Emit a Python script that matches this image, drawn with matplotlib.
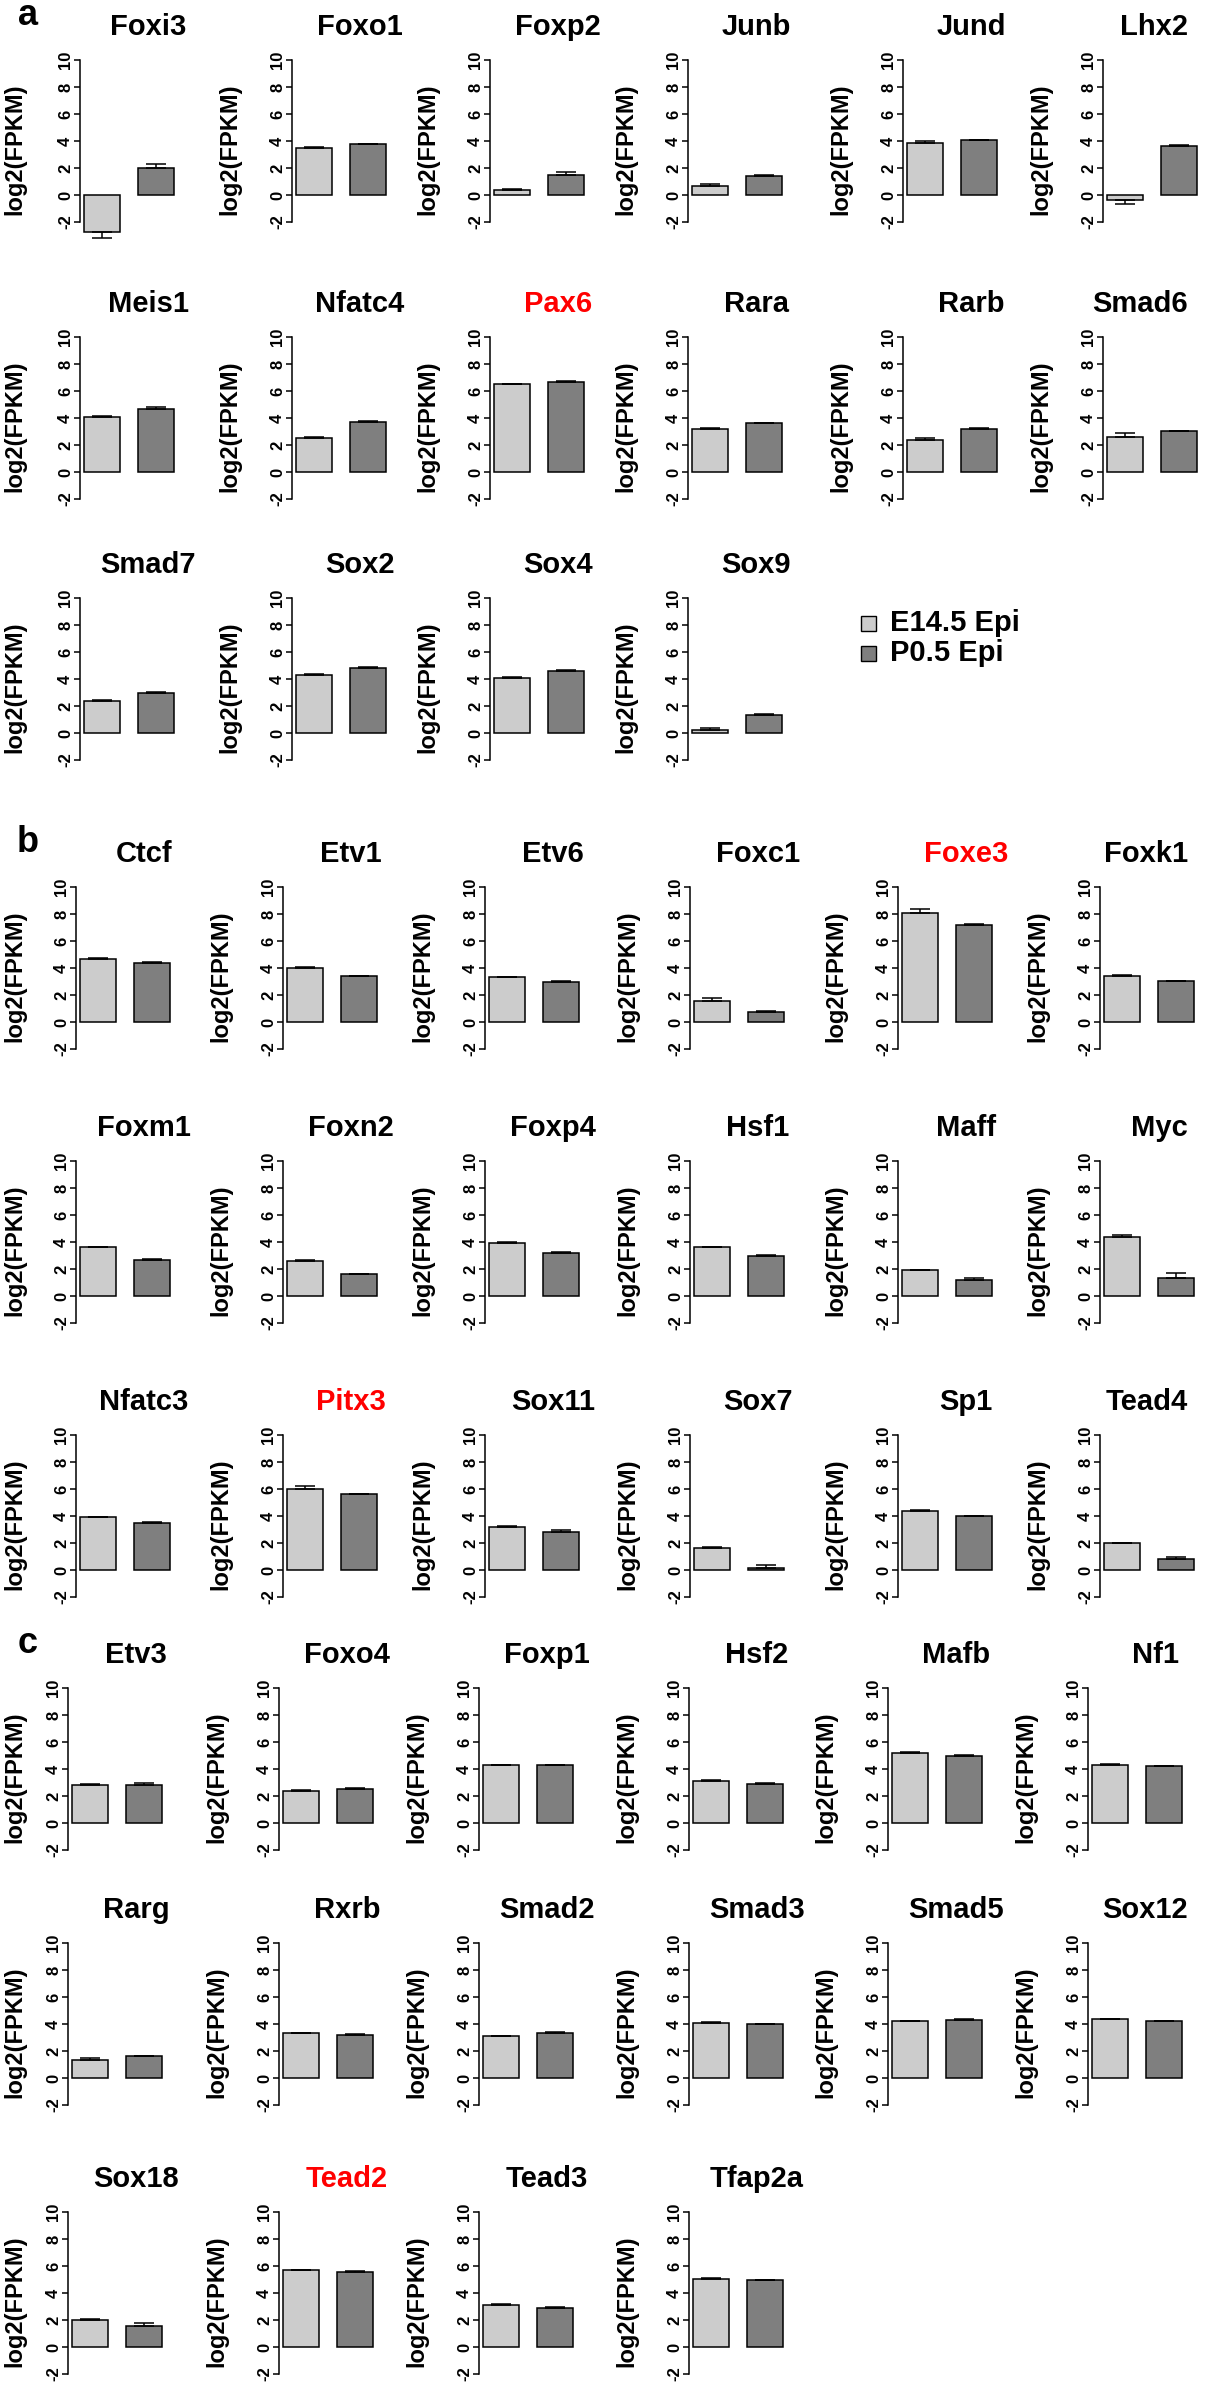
import matplotlib
matplotlib.use("Agg")
import matplotlib.pyplot as plt
from matplotlib.patches import Rectangle

plt.rcParams["font.family"] = ["Liberation Sans", "DejaVu Sans"]
plt.rcParams["font.weight"] = "bold"

# ---- data: log2(FPKM), mean and error for the two groups ----
groups = ["E14.5 Epi", "P0.5 Epi"]
highlight = ["Pax6", "Foxe3", "Pitx3", "Tead2"]

genes_a = ["Foxi3", "Foxo1", "Foxp2", "Junb", "Jund", "Lhx2",
           "Meis1", "Nfatc4", "Pax6", "Rara", "Rarb", "Smad6",
           "Smad7", "Sox2", "Sox4", "Sox9"]
e14_a = [-2.76, 3.46, 0.35, 0.7, 3.83, -0.4,
         4.09, 2.53, 6.5, 3.2, 2.4, 2.6,
         2.38, 4.3, 4.1, 0.25]
e14_err_a = [0.4, 0.12, 0.1, 0.15, 0.2, 0.3,
             0.04, 0.07, 0.05, 0.05, 0.1, 0.3,
             0.04, 0.04, 0.04, 0.1]
p05_a = [2.02, 3.76, 1.5, 1.4, 4.07, 3.66,
         4.69, 3.67, 6.7, 3.6, 3.2, 3.0,
         3.0, 4.85, 4.6, 1.3]
p05_err_a = [0.25, 0.02, 0.2, 0.08, 0.04, 0.05,
             0.12, 0.08, 0.05, 0.05, 0.05, 0.05,
             0.04, 0.04, 0.1, 0.12]

genes_b = ["Ctcf", "Etv1", "Etv6", "Foxc1", "Foxe3", "Foxk1",
           "Foxm1", "Foxn2", "Foxp4", "Hsf1", "Maff", "Myc",
           "Nfatc3", "Pitx3", "Sox11", "Sox7", "Sp1", "Tead4"]
e14_b = [4.7, 4.0, 3.3, 1.58, 8.07, 3.42,
         3.6, 2.6, 3.9, 3.6, 1.9, 4.35,
         3.9, 6.0, 3.2, 1.6, 4.4, 2.0]
e14_err_b = [0.03, 0.1, 0.04, 0.18, 0.27, 0.09,
             0.03, 0.03, 0.1, 0.05, 0.05, 0.15,
             0.03, 0.2, 0.05, 0.1, 0.03, 0.03]
p05_b = [4.4, 3.4, 3.0, 0.72, 7.18, 3.02,
         2.7, 1.6, 3.2, 3.0, 1.2, 1.3,
         3.5, 5.6, 2.8, 0.15, 4.0, 0.8]
p05_err_b = [0.03, 0.04, 0.03, 0.12, 0.07, 0.03,
             0.03, 0.03, 0.05, 0.04, 0.1, 0.4,
             0.03, 0.05, 0.15, 0.2, 0.03, 0.15]

genes_c = ["Etv3", "Foxo4", "Foxp1", "Hsf2", "Mafb", "Nf1",
           "Rarg", "Rxrb", "Smad2", "Smad3", "Smad5", "Sox12",
           "Sox18", "Tead2", "Tead3", "Tfap2a"]
e14_c = [2.84, 2.4, 4.3, 3.1, 5.2, 4.3,
         1.3, 3.3, 3.1, 4.1, 4.2, 4.35,
         1.98, 5.68, 3.1, 5.04]
e14_err_c = [0.03, 0.04, 0.03, 0.05, 0.04, 0.04,
             0.15, 0.04, 0.03, 0.03, 0.03, 0.03,
             0.09, 0.04, 0.05, 0.04]
p05_c = [2.81, 2.52, 4.3, 2.9, 5.0, 4.2,
         1.6, 3.2, 3.3, 4.0, 4.3, 4.2,
         1.52, 5.58, 2.9, 4.94]
p05_err_c = [0.15, 0.04, 0.03, 0.04, 0.04, 0.03,
             0.05, 0.03, 0.1, 0.03, 0.04, 0.03,
             0.24, 0.04, 0.05, 0.04]

yticks = [-2, 0, 2, 4, 6, 8, 10]

# ---- layout (pixels in the 1211 x 2387 image) ----
W, H = 1211, 2387
col_x = {"a": [80, 292, 490, 688, 903, 1103],
         "b": [76, 283, 485, 690, 898, 1100],
         "c": [68, 279, 479, 689, 888, 1088]}
row_top = {"a": [60, 337, 598], "b": [887, 1161, 1435], "c": [1688, 1943, 2212]}
ppu_x = 36.0    # pixels per x unit
ppu_y = 13.5    # pixels per y unit
xlim = (0.4, 3.1)
ylim = (-3.5, 10.5)
light, dark = "#cccccc", "#7f7f7f"
title_right_max = 1188

fig = plt.figure(figsize=(W / 100, H / 100), dpi=100)
titles = []


def panel(x0, top, gene, vals, errs, lab_off):
    w = (xlim[1] - xlim[0]) * ppu_x
    h = (ylim[1] - ylim[0]) * ppu_y
    top_px = top - (ylim[1] - 10) * ppu_y
    ax = fig.add_axes([x0 / W, 1 - (top_px + h) / H, w / W, h / H])
    xs = [1.0, 2.5]
    ax.bar(xs, vals, width=1.0, color=[light, dark], edgecolor="black", linewidth=1.1, zorder=2)
    lo = [e if v < 0 else 0 for v, e in zip(vals, errs)]
    hi = [0 if v < 0 else e for v, e in zip(vals, errs)]
    ax.errorbar(xs, vals, yerr=[lo, hi], fmt="none", ecolor="black",
                elinewidth=1.1, capsize=7, capthick=1.1, zorder=3)
    ax.set_xlim(*xlim)
    ax.set_ylim(*ylim)
    for s in ["top", "right", "bottom"]:
        ax.spines[s].set_visible(False)
    ax.spines["left"].set_bounds(-2, 10)
    ax.spines["left"].set_linewidth(1.1)
    ax.set_xticks([])
    ax.set_yticks(yticks)
    ax.set_yticklabels([str(t) for t in yticks], rotation=90, va="center",
                       fontsize=12, fontweight="bold")
    ax.tick_params(axis="y", length=4, width=1.1, pad=1)
    ax.set_ylabel("log2(FPKM)", fontsize=17, fontweight="bold")
    ax.yaxis.set_label_coords(-lab_off / w, (3.4 - ylim[0]) / (ylim[1] - ylim[0]))
    ax.patch.set_visible(False)
    color = "red" if gene in highlight else "black"
    t = fig.text((x0 + 68) / W, 1 - (top - 25) / H, gene, ha="center", va="baseline",
                 fontsize=21, fontweight="bold", color=color)
    titles.append(t)


sections = [("a", genes_a, e14_a, e14_err_a, p05_a, p05_err_a),
            ("b", genes_b, e14_b, e14_err_b, p05_b, p05_err_b),
            ("c", genes_c, e14_c, e14_err_c, p05_c, p05_err_c)]

for key, genes, m1, s1, m2, s2 in sections:
    fig.text(28 / W, 1 - (row_top[key][0] - 35) / H, key, ha="center", va="baseline",
             fontsize=26, fontweight="bold")
    for i, g in enumerate(genes):
        r, c = divmod(i, 6)
        x0 = col_x[key][c]
        off = x0 - 26 if c == 0 else 51
        panel(x0, row_top[key][r], g, [m1[i], m2[i]], [s1[i], s2[i]], off)

# legend
for j, (lab, colr) in enumerate(zip(groups, [light, dark])):
    yc = 623 + 30 * j
    fig.patches.append(Rectangle(((868 - 7.5) / W, 1 - (yc + 7.5) / H), 15 / W, 15 / H,
                                 transform=fig.transFigure, facecolor=colr,
                                 edgecolor="black", linewidth=1.0))
    fig.text(890 / W, 1 - yc / H, lab, ha="left", va="center",
             fontsize=21, fontweight="bold")

# keep right-column titles inside the image
renderer = fig.canvas.get_renderer()
for t in titles:
    bb = t.get_window_extent(renderer)
    if bb.x1 > title_right_max:
        xpos, ypos = t.get_position()
        t.set_position((xpos - (bb.x1 - title_right_max) / W, ypos))

fig.savefig("out.png", dpi=100)
